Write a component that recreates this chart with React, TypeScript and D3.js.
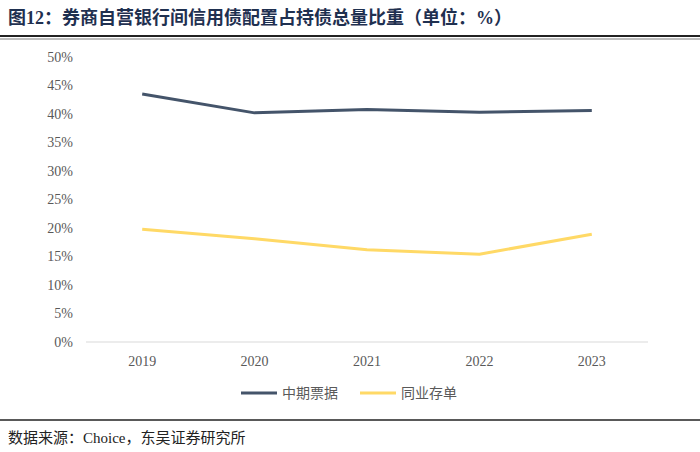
import React, { useEffect, useRef } from 'react';
import * as d3 from 'd3';

const years = ['2019', '2020', '2021', '2022', '2023'];
const mtnShare = [43.5, 40.2, 40.8, 40.3, 40.6];
const ncdShare = [19.8, 18.1, 16.2, 15.4, 18.9];
const seriesNames = ['中期票据', '同业存单'];
const seriesColors = ['#44546a', '#ffd966'];
const yTicks = [0, 5, 10, 15, 20, 25, 30, 35, 40, 45, 50];

const App: React.FC = () => {
  const svgRef = useRef<SVGSVGElement>(null);

  useEffect(() => {
    if (!svgRef.current) return;
    const width = 700;
    const height = 452;
    const svg = d3.select(svgRef.current);
    svg.selectAll('*').remove();
    svg.attr('width', width).attr('height', height);

    const serif = "'Times New Roman', 'Liberation Serif', 'DejaVu Serif', 'Noto Sans CJK SC', serif";

    // title
    svg.append('text')
      .attr('x', 8).attr('y', 24)
      .attr('font-family', serif)
      .attr('font-weight', 'bold')
      .attr('font-size', 18)
      .attr('fill', '#1f3050')
      .text('图12：券商自营银行间信用债配置占持债总量比重（单位：%）');

    svg.append('line').attr('x1', 0).attr('x2', width).attr('y1', 36).attr('y2', 36)
      .attr('stroke', '#222').attr('stroke-width', 2);
    svg.append('line').attr('x1', 0).attr('x2', width).attr('y1', 39).attr('y2', 39)
      .attr('stroke', '#222').attr('stroke-width', 0.6);

    const x = d3.scaleBand().domain(years).range([86, 648]);
    const y = d3.scaleLinear().domain([0, 50]).range([342, 57]);

    const g = svg.append('g');

    // y tick labels
    g.selectAll('.ytick')
      .data(yTicks)
      .enter().append('text')
      .attr('x', 73)
      .attr('y', d => y(d))
      .attr('dy', '0.35em')
      .attr('text-anchor', 'end')
      .attr('font-family', serif)
      .attr('font-size', 14)
      .attr('fill', '#595959')
      .text(d => `${d}%`);

    // x axis
    g.append('line')
      .attr('x1', 86).attr('x2', 648)
      .attr('y1', y(0)).attr('y2', y(0))
      .attr('stroke', '#d9d9d9').attr('stroke-width', 1);

    g.selectAll('.xtick')
      .data(years)
      .enter().append('text')
      .attr('x', d => (x(d) as number) + x.bandwidth() / 2)
      .attr('y', 366)
      .attr('text-anchor', 'middle')
      .attr('font-family', serif)
      .attr('font-size', 14)
      .attr('fill', '#595959')
      .text(d => d);

    const line = d3.line<number>()
      .x((_, i) => (x(years[i]) as number) + x.bandwidth() / 2)
      .y(d => y(d));

    [mtnShare, ncdShare].forEach((s, i) => {
      g.append('path')
        .datum(s)
        .attr('fill', 'none')
        .attr('stroke', seriesColors[i])
        .attr('stroke-width', 3)
        .attr('stroke-linejoin', 'round')
        .attr('d', line);
    });

    // legend
    const legendX = [241, 360];
    seriesNames.forEach((name, i) => {
      svg.append('line')
        .attr('x1', legendX[i]).attr('x2', legendX[i] + 36)
        .attr('y1', 393).attr('y2', 393)
        .attr('stroke', seriesColors[i]).attr('stroke-width', 3);
      svg.append('text')
        .attr('x', legendX[i] + 41).attr('y', 393)
        .attr('dy', '0.35em')
        .attr('font-family', "'Noto Sans CJK SC', sans-serif")
        .attr('font-size', 14)
        .attr('fill', '#595959')
        .text(name);
    });

    svg.append('line').attr('x1', 0).attr('x2', width).attr('y1', 420).attr('y2', 420)
      .attr('stroke', '#222').attr('stroke-width', 1.6);

    svg.append('text')
      .attr('x', 8).attr('y', 443)
      .attr('font-family', serif)
      .attr('font-size', 15)
      .attr('fill', '#222')
      .text('数据来源：Choice，东吴证券研究所');
  }, []);

  return <svg ref={svgRef} style={{ display: 'block', position: 'absolute', left: 0, top: 0 }}></svg>;
};

export default App;
